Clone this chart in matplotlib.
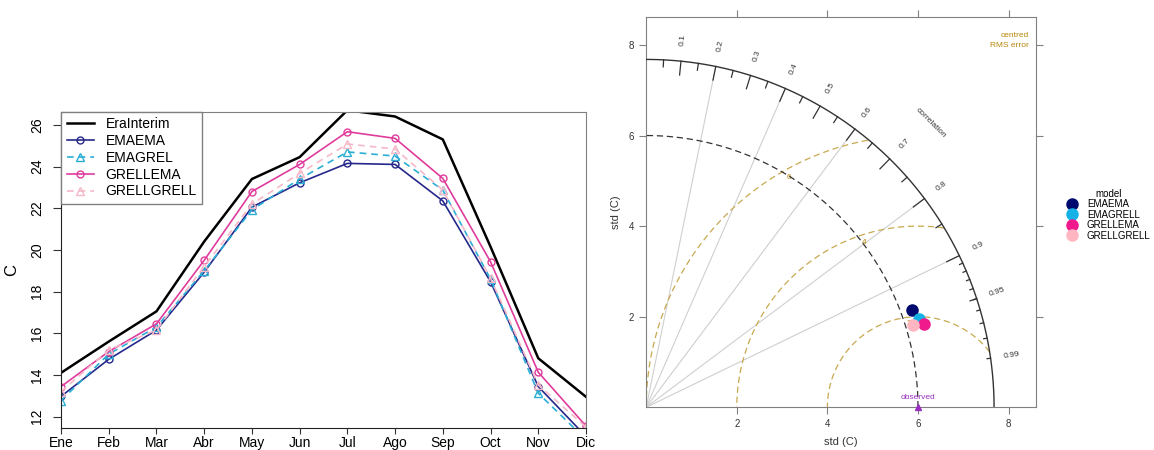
import numpy as np
import matplotlib
matplotlib.use('Agg')
import matplotlib.pyplot as plt

plt.rcParams['font.family'] = ['Liberation Sans', 'DejaVu Sans']

# ciclo anual (C)
meses = ['Ene', 'Feb', 'Mar', 'Abr', 'May', 'Jun', 'Jul', 'Ago', 'Sep', 'Oct', 'Nov', 'Dic']
erainterim = [14.1, 15.6, 17.05, 20.4, 23.4, 24.45, 26.7, 26.4, 25.3, 20.15, 14.8, 12.95]
emaema = [12.97, 14.75, 16.15, 18.93, 22.05, 23.22, 24.15, 24.1, 22.35, 18.47, 13.44, 11.05]
emagrel = [12.77, 15.0, 16.3, 19.0, 21.92, 23.4, 24.7, 24.5, 22.87, 18.6, 13.12, 10.9]
grellema = [13.44, 15.12, 16.45, 19.5, 22.8, 24.1, 25.67, 25.35, 23.43, 19.43, 14.13, 11.55]
grellgrell = [13.2, 15.2, 16.16, 19.2, 22.2, 23.67, 25.08, 24.84, 22.87, 18.64, 13.52, 11.5]

# diagrama de Taylor
modelos = ['EMAEMA', 'EMAGRELL', 'GRELLEMA', 'GRELLGRELL']
model_sd = [6.26, 6.34, 6.40, 6.17]
model_cor = [0.939, 0.951, 0.958, 0.956]
obs_sd = 6.0
rms_levels = [2, 4, 6]

fig = plt.figure(figsize=(11.54, 4.5), dpi=100)

# ---------- panel izquierdo ----------
ax = fig.add_axes([61/1154, 21.7/450, 525/1154, 316.6/450])
x = np.arange(len(meses))
ax.plot(x, erainterim, color='black', lw=1.8, label='EraInterim')
ax.plot(x, emaema, color='#25288a', lw=1.2, marker='o', ms=5, mfc='none', mew=1, label='EMAEMA')
ax.plot(x, emagrel, color='#2aaed6', lw=1.2, ls=(0, (4, 3)), marker='^', ms=6, mfc='none', mew=1, label='EMAGREL')
ax.plot(x, grellema, color='#e03c9c', lw=1.2, marker='o', ms=5, mfc='none', mew=1, label='GRELLEMA')
ax.plot(x, grellgrell, color='#f5b8c8', lw=1.2, ls=(0, (4, 3)), marker='^', ms=6, mfc='none', mew=1, label='GRELLGRELL')
ax.set_xlim(0, 11)
ax.set_ylim(11.44, 26.63)
ax.set_xticks(x)
ax.set_xticklabels(meses, fontsize=10)
ax.set_yticks(np.arange(12, 27, 2))
ax.set_yticklabels([str(v) for v in range(12, 27, 2)], fontsize=10, rotation=90, va='center')
ax.tick_params(axis='x', length=4, pad=1.5, color='#333333')
ax.tick_params(axis='y', length=6, pad=6, color='#333333')
ax.set_ylabel('C', fontsize=12, labelpad=8)
for s in ['top', 'right']:
    ax.spines[s].set_color('#808080')
for s in ['left', 'bottom']:
    ax.spines[s].set_color('#222222')
leg = ax.legend(loc='upper left', borderaxespad=0, fontsize=10, handlelength=2.0,
                labelspacing=0.2, fancybox=False, framealpha=1, borderpad=0.4,
                handletextpad=0.8)
leg.get_frame().set_edgecolor('#808080')
leg.get_frame().set_linewidth(1)

# ---------- diagrama de Taylor ----------
tx = fig.add_axes([645.7/1154, 42.7/450, 391/1154, 390/450])
maxsd = 1.2 * max(model_sd)
lim = 8.61
tx.set_xlim(0, lim)
tx.set_ylim(0, lim)
tx.set_aspect('equal')
gris = '#808080'
for s in tx.spines.values():
    s.set_color(gris)
tx.set_xticks([2, 4, 6, 8])
tx.set_yticks([2, 4, 6, 8])
tx.tick_params(axis='both', which='both', direction='out', length=5, color=gris,
               labelsize=7, top=True, right=True, labeltop=False, labelright=False,
               labelcolor='#333333')
tx.set_xlabel('std (C)', fontsize=8, color='#333333', labelpad=6)
tx.set_ylabel('std (C)', fontsize=8, color='#333333', labelpad=6)

th = np.linspace(0, np.pi / 2, 400)
# lineas de correlacion
for c in [0.2, 0.4, 0.6, 0.8, 0.9]:
    a = np.arccos(c)
    tx.plot([0, maxsd * np.cos(a)], [0, maxsd * np.sin(a)], color='#cfcfcf', lw=0.8, zorder=1)

# contornos RMS centrados
for r in rms_levels:
    phi = np.linspace(0, np.pi, 600)
    cx = obs_sd + r * np.cos(phi)
    cy = r * np.sin(phi)
    keep = np.hypot(cx, cy) <= maxsd
    cx = np.where(keep, cx, np.nan)
    cy = np.where(keep, cy, np.nan)
    tx.plot(cx, cy, color='#c8a850', lw=0.9, ls=(0, (5, 3)), zorder=1)
    ix = (2 * obs_sd ** 2 - r ** 2) / (2 * obs_sd)
    iy = np.sqrt(max(obs_sd ** 2 - ix ** 2, 0))
    tx.annotate(str(r), (ix, iy), xytext=(3, -4), textcoords='offset points',
                fontsize=6, color='#b8860b', ha='left', va='center', zorder=2)

# arco exterior y arco de referencia
tx.plot(maxsd * np.cos(th), maxsd * np.sin(th), color='#333333', lw=1.0, zorder=3)
tx.plot(obs_sd * np.cos(th), obs_sd * np.sin(th), color='#333333', lw=0.9, ls=(0, (5, 3)), zorder=3)

# marcas del arco
for cv, frac in [(np.arange(0.1, 0.95, 0.1), 0.96), (np.arange(0.05, 1.0, 0.1), 0.98),
                 (np.arange(0.91, 1.0, 0.01), 0.99)]:
    a = np.arccos(cv)
    for ai in a:
        tx.plot([maxsd * np.cos(ai), frac * maxsd * np.cos(ai)],
                [maxsd * np.sin(ai), frac * maxsd * np.sin(ai)], color='#333333', lw=0.9, zorder=3)

lab_cor = list(np.round(np.arange(0.1, 0.95, 0.1), 1)) + [0.95, 0.99]
for cv in lab_cor:
    a = np.arccos(cv)
    tx.text(1.06 * maxsd * np.cos(a), 1.06 * maxsd * np.sin(a), f'{cv:g}', fontsize=6,
            rotation=np.degrees(a), ha='center', va='center', rotation_mode='anchor', color='#333333')
a = np.radians(45)
tx.text(1.155 * maxsd * np.cos(a), 1.155 * maxsd * np.sin(a), 'correlation', fontsize=6,
        rotation=-45, ha='center', va='center', rotation_mode='anchor', color='#333333')

tx.text(8.45, 8.1, 'centred\nRMS error', fontsize=6, color='#b8860b', ha='right', va='center',
        linespacing=1.6)

# observado
tx.plot([obs_sd], [0], marker='^', color='#9a30c0', ms=4, clip_on=False, zorder=5)
tx.text(obs_sd, 0.13, 'observed', fontsize=6, color='#9a30c0', ha='center', va='bottom', zorder=5)

# modelos
colores = ['#000a6e', '#14b2e6', '#f01a8c', '#ffb6c1']
for nm, sd, cr, col in zip(modelos, model_sd, model_cor, colores):
    a = np.arccos(cr)
    tx.plot(sd * np.cos(a), sd * np.sin(a), 'o', color=col, ms=8, zorder=6, label=nm)

tleg = tx.legend(loc='upper left', bbox_to_anchor=(1.07, 0.57), frameon=False, fontsize=7,
                 title='model', title_fontsize=7, handletextpad=1.0, labelspacing=0.05,
                 handlelength=1.0, borderaxespad=0)
tleg._legend_box.align = 'center'

fig.savefig('out.png', dpi=100)
